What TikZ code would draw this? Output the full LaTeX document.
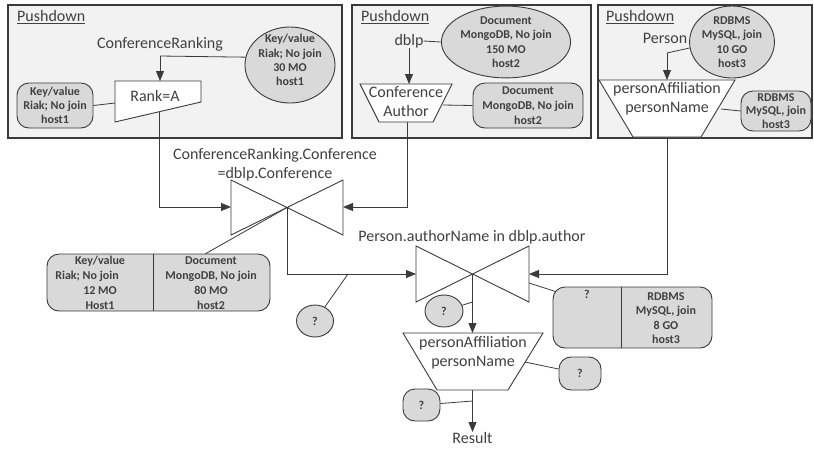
\documentclass[tikz,border=0pt]{standalone}
\usepackage{fontspec}
\setmainfont{Carlito}
\usetikzlibrary{arrows.meta,shapes.geometric}
\definecolor{ln}{HTML}{3A3A3A}
\definecolor{bgc}{HTML}{F2F2F2}
\definecolor{nf}{HTML}{D9D9D9}
\definecolor{tx}{HTML}{404040}
\pgfdeclarelayer{bglayer}
\pgfdeclarelayer{cnlayer}
\pgfsetlayers{bglayer,cnlayer,main}
\begin{document}
\begin{tikzpicture}[x=1pt,y=-1pt,
  every node/.style={text=tx},
  panel/.style={draw=ln, fill=bgc, line width=1.1pt},
  conn/.style={draw=ln, line width=0.8pt},
  arr/.style={conn, -{Triangle[length=10pt,width=8pt]}},
  op/.style={draw=ln, fill=white, line width=0.9pt},
  big/.style={font=\fontsize{16}{19}\selectfont, align=center, inner sep=0pt},
  sm/.style={font=\bfseries\fontsize{12}{#1}\selectfont, align=center, inner sep=0pt},
  sm/.default=14.3pt,
  ell/.style={ellipse, draw=ln, fill=nf, line width=0.9pt, inner sep=0pt},
  rbox/.style={rectangle, rounded corners=12pt, draw=ln, fill=nf, line width=0.9pt, inner sep=0pt},
]
\useasboundingbox (0,0) rectangle (814,451);

% ---------- panels
\begin{pgfonlayer}{bglayer}
\path[panel] (8,5) rectangle (342,138);
\path[panel] (352,5) rectangle (591,138);
\path[panel] (598,5) rectangle (812,138);
\end{pgfonlayer}
\node[big, anchor=west] (pd1) at (17,17) {\underline{Pushdown}};
\node[big, anchor=west] (pd2) at (361,17) {\underline{Pushdown}};
\node[big, anchor=west] (pd3) at (606,17) {\underline{Pushdown}};

% ---------- panel 1
\node[big] (cr) at (160,44) {ConferenceRanking};
\node[ell, minimum width=90pt, minimum height=76pt] (ell1) at (290,65) {};
\node[sm] (ell1t) at (290,60) {Key/value\\Riak; No join\\30 MO\\host1};
\draw[op] (115,81) -- (201,81) -- (201,102) -- (115,122) -- cycle;
\node[big] (rank) at (155,96) {Rank=A};
\node[rbox, minimum width=76pt, minimum height=45pt, sm] (r1) at (55,105.5) {Key/value\\Riak; No join\\host1};
\coordinate (crj) at (160,56);
\coordinate (rankN) at (160,81);
\coordinate (rankW) at (115,103);
\coordinate (rankS) at (159,112);

% ---------- panel 2
\node[big] (dblp) at (409,41) {dblp};
\node[ell, minimum width=104pt, minimum height=66pt, sm] (ell2) at (506,42) {Document\\MongoDB, No join\\150 MO\\host2};
\draw[op] (360,84) -- (452,84) -- (433,122) -- (379,122) -- cycle;
\node[big] (ca) at (406,102) {Conference\\Author};
\node[rbox, minimum width=110pt, minimum height=45pt, sm=15pt] (r2) at (528,105.5) {Document\\MongoDB, No join\\host2};
\coordinate (caN) at (409,84);
\coordinate (caE) at (443,105);
\coordinate (caS) at (407,122);

% ---------- panel 3
\node[big] (person) at (665,38) {Person};
\node[ell, minimum width=58pt, minimum height=72pt, sm] (ell3) at (732,42) {RDBMS\\MySQL, join\\10 GO\\host3};
\draw[op] (599,80) -- (735,80) -- (701,137) -- (633,137) -- cycle;
\node[big] (pa) at (667,99) {personAffiliation\\personName};
\node[rbox, minimum width=70pt, minimum height=40pt, sm=13.5pt] (r3) at (776,111) {RDBMS\\MySQL, join\\host3};
\coordinate (pj) at (667,53);
\coordinate (paN) at (667,80);
\coordinate (paE) at (721,109);
\coordinate (paS) at (667,137);

% ---------- join 1
\node[big] (j1lab) at (275,165) {ConferenceRanking.Conference\\=dblp.Conference};
\draw[op] (231,180) -- (343,235) -- (343,180) -- (231,235) -- cycle;
\coordinate (j1L) at (231,207);
\coordinate (j1R) at (343,207);
\coordinate (j1C) at (287,207.5);

% ---------- left result box
\node[rbox, minimum width=223pt, minimum height=57pt] (lb) at (158.5,282.5) {};
\coordinate (lbdiv) at (153,0);
\node[sm=15pt] (lbl) at (100,283) {Key/value\\\hspace*{-26pt}Riak; No join\\12 MO\\Host1};
\node[sm=15pt] (lbr) at (211,283) {Document\\MongoDB, No join\\80 MO\\host2};
\coordinate (lbt) at (205,254);

% ---------- join 2
\node[big] (j2lab) at (472,237) {Person.authorName in dblp.author};
\draw[op] (416,246) -- (529,302) -- (529,246) -- (416,302) -- cycle;
\coordinate (j2L) at (416,274);
\coordinate (j2R) at (529,274);
\coordinate (j2C) at (472.5,274);
\coordinate (j2E) at (529,283);

% ---------- right result box
\node[rbox, minimum width=159pt, minimum height=61pt] (rb) at (632.5,317.5) {};
\coordinate (rbdiv) at (621,0);
\node[sm, anchor=north] (rbl) at (587,290) {?};
\node[sm] (rbr) at (666,318) {RDBMS\\MySQL, join\\8 GO\\host3};
\coordinate (rbc) at (557,292);

% ---------- question marks
\node[ell, minimum width=37pt, minimum height=32pt, sm] (q1) at (315,321) {?};
\coordinate (q1t) at (348,274);
\node[ell, minimum width=38pt, minimum height=32pt, sm] (q2) at (444,311) {?};
\coordinate (q2t) at (472.5,302);

% ---------- final projection
\draw[op] (403,333) -- (543,333) -- (508,390) -- (437,390) -- cycle;
\node[big] (pa2) at (473,352.5) {personAffiliation\\personName};
\coordinate (pa2N) at (472.5,333);
\coordinate (pa2E) at (525,362);
\coordinate (pa2S) at (472.5,390);
\node[rbox, minimum width=42pt, minimum height=33pt, sm] (q3) at (580,373.5) {?};
\node[rbox, minimum width=37pt, minimum height=32pt, sm] (q4) at (421.5,405) {?};
\coordinate (q4t) at (472.5,401);
\node[big, anchor=north] (res) at (472.5,432) {Result};

% ---------- dividers of the two result boxes
\draw[conn] (lb.north -| lbdiv) -- (lb.south -| lbdiv);
\draw[conn] (rb.north -| rbdiv) -- (rb.south -| rbdiv);

% ---------- connectors
\begin{pgfonlayer}{cnlayer}
\draw[conn] (ell1.170) -- (crj);
\draw[arr] (crj) -- (rankN);
\draw[conn] (r1.east) -- (rankW);
\draw[arr] (rankS) |- (j1L);
\draw[conn] (dblp.east) -- (ell2.west);
\draw[arr] (dblp.south) -- (caN);
\draw[conn] (caE) -- (r2.west);
\draw[arr] (caS) |- (j1R);
\draw[conn] (pj) -- (ell3.188);
\draw[arr] (pj) -- (paN);
\draw[conn] (paE) -- (r3.west);
\draw[arr] (paS) |- (j2R);
\draw[arr] (j1C) |- (j2L);
\draw[conn] (lbt) -- (j1C);
\draw[conn] (j2E) -- (rbc);
\draw[conn] (q1) -- (q1t);
\draw[conn] (q2) -- (q2t);
\draw[arr] (j2C) -- (pa2N);
\draw[conn] (pa2E) -- (q3);
\draw[conn] (q4) -- (q4t);
\draw[arr] (pa2S) -- (res.north);
\end{pgfonlayer}
\end{tikzpicture}
\end{document}
